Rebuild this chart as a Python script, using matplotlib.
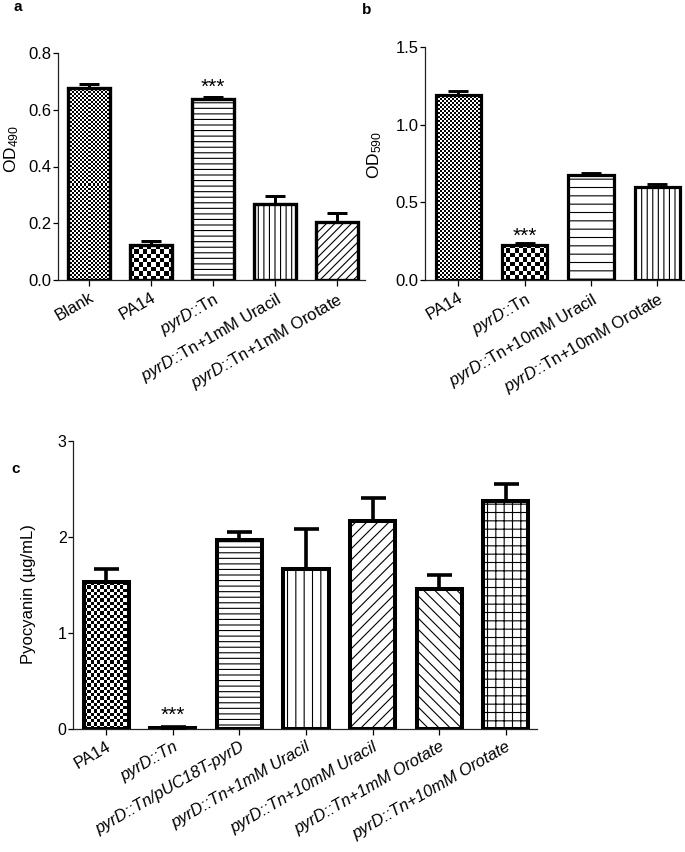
import numpy as np
import matplotlib
matplotlib.use("Agg")
import matplotlib.pyplot as plt
from matplotlib.colors import ListedColormap

plt.rcParams['font.family'] = ['Liberation Sans', 'DejaVu Sans']
plt.rcParams['mathtext.fontset'] = 'custom'
plt.rcParams['mathtext.rm'] = 'Liberation Sans'
plt.rcParams['mathtext.it'] = 'Liberation Sans:italic'
plt.rcParams['hatch.linewidth'] = 0.8

# =============================================================================
#  Data
# =============================================================================
a_labels = ["Blank", "PA14", r"$\mathit{pyrD}$::Tn",
            r"$\mathit{pyrD}$::Tn+1mM Uracil", r"$\mathit{pyrD}$::Tn+1mM Orotate"]
a_mean = [0.677, 0.123, 0.638, 0.267, 0.205]
a_err = [0.013, 0.014, 0.008, 0.029, 0.032]

b_labels = ["PA14", r"$\mathit{pyrD}$::Tn",
            r"$\mathit{pyrD}$::Tn+10mM Uracil", r"$\mathit{pyrD}$::Tn+10mM Orotate"]
b_mean = [1.194, 0.228, 0.673, 0.600]
b_err = [0.024, 0.010, 0.017, 0.017]

c_labels = ["PA14", "pyrD::Tn", "pyrD::Tn/pUC18T-pyrD", "pyrD::Tn+1mM Uracil",
            "pyrD::Tn+10mM Uracil", "pyrD::Tn+1mM Orotate", "pyrD::Tn+10mM Orotate"]
c_mean = [1.53, 0.012, 1.97, 1.67, 2.17, 1.46, 2.375]
c_err = [0.14, 0.008, 0.08, 0.41, 0.24, 0.14, 0.175]

# fills: ("chk", cell px) for checkerboard, otherwise a hatch string
a_fill = [("chk", 2.0), ("chk", 4.3), "---", "|||", "////"]
b_fill = [("chk", 2.0), ("chk", 4.3), "--", "|||"]
c_fill = [("chk", 3.3), "---", "---", "||", "///", "\\\\\\", "++"]

fig = plt.figure(figsize=(6.85, 8.52), dpi=100)
W, H = 685, 852


def box(x0, x1, y0, y1):
    return [x0 / W, 1 - y1 / H, (x1 - x0) / W, (y1 - y0) / H]


def panel(rect, labels, mean, err, fills, ylim, yticks, xmax, lw, capsize):
    ax = fig.add_axes(rect)
    x = np.arange(len(mean))
    bars = ax.bar(x, mean, width=0.68, color="white", edgecolor="black",
                  linewidth=lw, zorder=2)
    for b, f in zip(bars, fills):
        if isinstance(f, tuple):
            b.set_facecolor("none")
        else:
            b.set_hatch(f)
    ax.errorbar(x, mean, yerr=[np.zeros(len(err)), err], fmt="none",
                ecolor="black", elinewidth=lw * 0.9, capsize=capsize,
                capthick=lw * 0.9, zorder=3)
    ax.set_xlim(-0.5, xmax)
    ax.set_ylim(*ylim)
    ax.set_yticks(yticks)
    ax.set_xticks(x)
    ax.set_xticklabels(labels, rotation=30, ha="right",
                       rotation_mode="anchor", fontsize=12)
    for s in ("top", "right"):
        ax.spines[s].set_visible(False)
    for s in ("left", "bottom"):
        ax.spines[s].set_linewidth(0.9)
        ax.spines[s].set_color("#222222")
    ax.tick_params(axis="y", length=3.5, width=0.9, labelsize=12, pad=1)
    ax.tick_params(axis="x", length=4.3, width=0.9, pad=3)
    return ax, bars


def checker(ax, bars, fills):
    cmap = ListedColormap(["black", "white"])
    for b, f in zip(bars, fills):
        if not isinstance(f, tuple):
            continue
        bb = b.get_window_extent()
        nx = max(1, int(round(bb.width / f[1])))
        ny = max(1, int(round(bb.height / f[1])))
        grid = np.add.outer(np.arange(ny), np.arange(nx)) % 2
        x0, y0 = b.get_x(), b.get_y()
        im = ax.imshow(grid, cmap=cmap, aspect="auto", interpolation="nearest",
                       extent=(x0, x0 + b.get_width(), y0, y0 + b.get_height()),
                       zorder=1.5)
        im.set_clip_path(b)


# =============================================================================
#  Panel a
# =============================================================================
ax_a, bars_a = panel(box(58, 365, 53, 280), a_labels, a_mean, a_err, a_fill,
                     (0, 0.8), [0, 0.2, 0.4, 0.6, 0.8], 4.45, 2.4, 7.5)
ax_a.set_yticklabels(["0.0", "0.2", "0.4", "0.6", "0.8"])
ax_a.set_ylabel(r"OD$_{490}$", fontsize=12.5)
ax_a.yaxis.set_label_coords(-0.12, 0.577)

# =============================================================================
#  Panel b
# =============================================================================
ax_b, bars_b = panel(box(425, 684, 47, 280), b_labels, b_mean, b_err, b_fill,
                     (0, 1.5), [0, 0.5, 1.0, 1.5], 3.4, 2.3, 7.5)
ax_b.set_yticklabels(["0.0", "0.5", "1.0", "1.5"])
ax_b.set_ylabel(r"OD$_{590}$", fontsize=12.5)
ax_b.yaxis.set_label_coords(-0.16, 0.535)

# =============================================================================
#  Panel c
# =============================================================================
ax_c, bars_c = panel(box(73, 537, 441, 729), c_labels, c_mean, c_err, c_fill,
                     (0, 3), [0, 1, 2, 3], 6.47, 2.9, 9)
for lbl in ax_c.get_xticklabels()[1:]:
    lbl.set_fontstyle("italic")
ax_c.tick_params(axis="y", labelsize=11.5)
ax_c.set_ylabel("Pyocyanin (µg/mL)", fontsize=12)
ax_c.yaxis.set_label_coords(-0.08, 0.47)

# significance marks
for ax, mean, err, i, off in [(ax_a, a_mean, a_err, 2, 7),
                              (ax_b, b_mean, b_err, 1, 5),
                              (ax_c, c_mean, c_err, 1, 8.5)]:
    ax.annotate("***", (i, mean[i] + err[i]), xytext=(0, off),
                textcoords="offset points", ha="center", va="center",
                fontsize=15)

fig.text(14 / W, 1 - 7 / H, "a", fontsize=11, fontweight="bold", va="center")
fig.text(362 / W, 1 - 10 / H, "b", fontsize=11, fontweight="bold", va="center")
fig.text(11 / W, 1 - 469 / H, "c", fontsize=11, fontweight="bold", va="center")

fig.canvas.draw()
checker(ax_a, bars_a, a_fill)
checker(ax_b, bars_b, b_fill)
checker(ax_c, bars_c, c_fill)
ax_a.set_xlim(-0.5, 4.45); ax_a.set_ylim(0, 0.8)
ax_b.set_xlim(-0.5, 3.4); ax_b.set_ylim(0, 1.5)
ax_c.set_xlim(-0.5, 6.47); ax_c.set_ylim(0, 3)

fig.savefig("out.png", dpi=100)
